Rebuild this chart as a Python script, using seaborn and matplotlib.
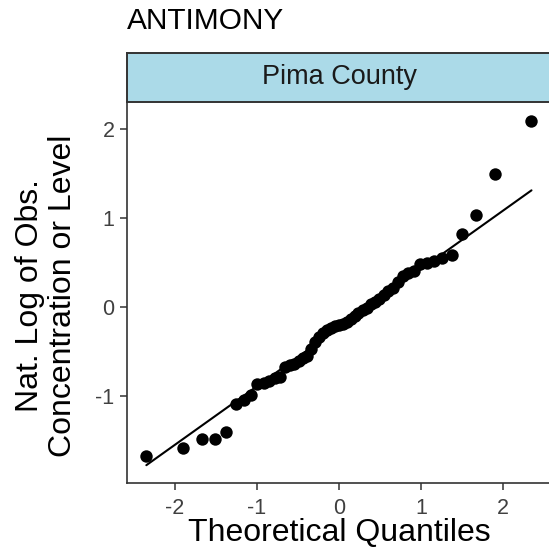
import statistics
import numpy as np
import pandas as pd
import matplotlib
matplotlib.use("Agg")
import matplotlib.pyplot as plt
import seaborn as sns

chemical = "ANTIMONY"
county = "Pima County"
log_obs = [
    -1.68, -1.59, -1.49, -1.49, -1.41, -1.10, -1.05, -0.99, -0.87, -0.86,
    -0.83, -0.80, -0.79, -0.68, -0.66, -0.64, -0.61, -0.58, -0.55, -0.48,
    -0.40, -0.34, -0.29, -0.26, -0.24, -0.22, -0.20, -0.19, -0.17, -0.14,
    -0.10, -0.07, -0.04, -0.01, 0.03, 0.06, 0.09, 0.13, 0.18, 0.21,
    0.28, 0.35, 0.38, 0.41, 0.48, 0.50, 0.52, 0.55, 0.59, 0.82,
    1.04, 1.50, 2.10,
]
x_ticks = [-2, -1, 0, 1, 2]
y_ticks = [-1, 0, 1, 2]
x_label = "Theoretical Quantiles"
y_label_lines = ["Nat. Log of Obs.", "Concentration or Level"]

# ---- Q-Q statistics (as stat_qq / stat_qq_line) ----
n = len(log_obs)
nd = statistics.NormalDist()
a = 3 / 8 if n <= 10 else 0.5
theo = [nd.inv_cdf((i + 1 - a) / (n + 1 - 2 * a)) for i in range(n)]
df = pd.DataFrame({"theoretical": theo, "sample": sorted(log_obs)})
q1, q3 = np.quantile(df["sample"], [0.25, 0.75])
t1, t3 = nd.inv_cdf(0.25), nd.inv_cdf(0.75)
slope = (q3 - q1) / (t3 - t1)
intercept = q1 - slope * t1
line_df = pd.DataFrame({"theoretical": [min(theo), max(theo)]})
line_df["sample"] = intercept + slope * line_df["theoretical"]

# ---- styling ----
sns.set_style("white")
plt.rcParams["font.family"] = ["Liberation Sans", "DejaVu Sans"]

W, H = 549, 550
fig = plt.figure(figsize=(W / 100, H / 100), dpi=100)
fig.patch.set_facecolor("white")

def fx(px):
    return px / W

def fy(py):
    return 1 - py / H

panel_l, panel_r, panel_t, panel_b = 127, 551, 102, 483
ax = fig.add_axes([fx(panel_l), fy(panel_b), (panel_r - panel_l) / W, (panel_b - panel_t) / H])

sns.scatterplot(data=df, x="theoretical", y="sample", ax=ax, color="black",
                s=80, linewidth=0, zorder=3)
sns.lineplot(data=line_df, x="theoretical", y="sample", ax=ax, color="black",
             linewidth=1.5, zorder=2)

ax.set_xlim(-2.584, 2.586)
ax.set_ylim(-1.985, 2.31)
ax.set_xticks(x_ticks)
ax.set_yticks(y_ticks)
ax.set_xticklabels([str(v) for v in x_ticks])
ax.set_yticklabels([str(v) for v in y_ticks])
ax.tick_params(axis="both", which="major", direction="out", length=5, width=1.1,
               color="#333333", labelcolor="#404040", labelsize=15.5,
               bottom=True, left=True)
ax.tick_params(axis="x", pad=6)
ax.tick_params(axis="y", pad=4)
for side in ["top", "right"]:
    ax.spines[side].set_visible(False)
for side in ["left", "bottom"]:
    ax.spines[side].set_color("#333333")
    ax.spines[side].set_linewidth(1.2)
ax.set_xlabel("")
ax.set_ylabel("")
ax.grid(False)

# x axis title
fig.text(fx(339), fy(541), x_label, ha="center", va="baseline",
         fontsize=23, color="black")
# y axis title (two lines)
fig.text(fx(38), fy(296), y_label_lines[0], rotation=90, rotation_mode="anchor",
         ha="center", va="baseline", fontsize=23, color="black")
fig.text(fx(71), fy(296), y_label_lines[1], rotation=90, rotation_mode="anchor",
         ha="center", va="baseline", fontsize=23, color="black")

# facet strip
strip_t = 53
sax = fig.add_axes([fx(panel_l), fy(panel_t), (panel_r - panel_l) / W, (panel_t - strip_t) / H])
sax.set_facecolor("#ABDAE8")
sax.set_xticks([])
sax.set_yticks([])
for side in ["top", "left", "bottom", "right"]:
    sax.spines[side].set_color("#333333")
    sax.spines[side].set_linewidth(1.4)
sax.text(0.5, 0.5, county, ha="center", va="center", fontsize=19.5,
         color="#1A1A1A", transform=sax.transAxes)

# title
fig.text(fx(127), fy(29), chemical, ha="left", va="baseline", fontsize=21.5, color="black")

fig.savefig("out.png", dpi=100)
